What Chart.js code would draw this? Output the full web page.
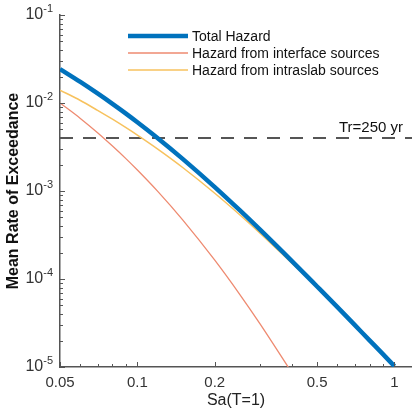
<!DOCTYPE html>
<html lang="en">
<head>
  <meta charset="UTF-8">
  <title>Hazard Curves</title>
  <style>
    html, body { margin: 0; padding: 0; background: #fff; }
    #wrap { width: 412px; height: 413px; }
  </style>
</head>
<body>
  <div id="wrap"><canvas id="hazard"></canvas></div>

  <script src="https://cdn.jsdelivr.net/npm/chart.js"></script>
  <script>
    // Sa(T=1) values and rates
    const sa = [0.05, 0.06, 0.07, 0.08, 0.09, 0.1, 0.12, 0.15, 0.2, 0.25, 0.3, 0.4, 0.5, 0.6, 0.7, 0.8, 0.9, 1.0];
    const totalHazard = [0.0243, 0.01736, 0.01284, 0.00978, 0.00762, 0.00604, 0.00398, 0.00232, 0.001108, 0.000605, 0.000363, 0.0001585, 0.0000822, 0.0000479, 0.0000301, 0.0000201, 0.0000141, 0.0000102];
    const intraslabHazard = [0.0140, 0.01068, 0.00825, 0.00654, 0.00527, 0.00431, 0.00299, 0.00185, 0.000944, 0.000538, 0.000332, 0.000150, 0.0000810, 0.0000473, 0.0000298, 0.0000199, 0.0000140, 0.0000101];
    const interfaceSa = [0.05, 0.06, 0.07, 0.08, 0.09, 0.1, 0.12, 0.15, 0.2, 0.25, 0.3, 0.4];
    const interfaceHazard = [0.0100, 0.00668, 0.00459, 0.00324, 0.002348, 0.001729, 0.000989, 0.00047, 0.0001636, 0.000067, 0.0000309, 0.0000085];
    const returnRate = 1 / 250;
    const returnLabel = 'Tr=250 yr';
    const xTicks = [0.05, 0.1, 0.2, 0.5, 1];
    const yTicks = [1e-5, 1e-4, 1e-3, 1e-2, 1e-1];

    const toPts = (xs, ys) => xs.map((x, i) => ({ x: x, y: ys[i] }));
    const AXIS = '#555';

    // inward ticks, log minor ticks, superscript y labels, legend, Tr label
    const decor = {
      id: 'decor',
      afterDraw(chart) {
        const ctx = chart.ctx, xs = chart.scales.x, ys = chart.scales.y, a = chart.chartArea;
        ctx.save();
        ctx.strokeStyle = AXIS;
        ctx.lineWidth = 1;
        ctx.beginPath();
        for (let e = -5; e < -1; e++) {
          for (let m = 1; m <= 10; m++) {
            const v = m * Math.pow(10, e);
            const py = Math.round(ys.getPixelForValue(v)) + 0.5;
            const len = (m === 1 || m === 10) ? 5 : 3;
            ctx.moveTo(a.left, py); ctx.lineTo(a.left + len, py);
          }
        }
        for (let e = -2; e <= 0; e++) {
          for (let m = 1; m <= 9; m++) {
            const v = m * Math.pow(10, e);
            if (v < 0.05 || v > xs.max) continue;
            const px = Math.round(xs.getPixelForValue(v)) + 0.5;
            const len = xTicks.includes(+v.toFixed(3)) ? 5 : 3;
            ctx.moveTo(px, a.bottom); ctx.lineTo(px, a.bottom - len);
          }
        }
        ctx.stroke();

        // y tick labels 10^n
        ctx.fillStyle = '#333';
        ctx.textBaseline = 'middle';
        yTicks.forEach(v => {
          const py = ys.getPixelForValue(v);
          const exp = String(Math.round(Math.log10(v)));
          ctx.font = '11px Arial';
          const ew = ctx.measureText(exp).width;
          const right = a.left - 7;
          ctx.textAlign = 'right';
          ctx.fillText(exp, right, py - 6);
          ctx.font = '16px Arial';
          ctx.fillText('10', right - ew, py);
        });

        // return period label
        ctx.font = '15px Arial';
        ctx.textAlign = 'right';
        ctx.textBaseline = 'bottom';
        ctx.fillStyle = '#111';
        ctx.fillText(returnLabel, a.right - 9, ys.getPixelForValue(returnRate) - 3);

        // legend
        const rows = [36, 53, 70];
        ctx.textAlign = 'left';
        ctx.textBaseline = 'middle';
        ctx.font = '14px Arial';
        [0, 1, 2].forEach((di, i) => {
          const ds = chart.data.datasets[di];
          ctx.strokeStyle = ds.borderColor;
          ctx.lineWidth = ds.borderWidth;
          ctx.beginPath();
          ctx.moveTo(128, rows[i]); ctx.lineTo(188, rows[i]);
          ctx.stroke();
          ctx.fillStyle = '#111';
          ctx.fillText(ds.label, 192, rows[i] + 1);
        });
        ctx.restore();
      }
    };

    new Chart(document.getElementById('hazard'), {
      type: 'line',
      data: {
        datasets: [
          { label: 'Total Hazard', data: toPts(sa, totalHazard), borderColor: '#0072BD', borderWidth: 4.5, order: 0 },
          { label: 'Hazard from interface sources', data: toPts(interfaceSa, interfaceHazard), borderColor: '#EE8A70', borderWidth: 1.3, order: 2 },
          { label: 'Hazard from intraslab sources', data: toPts(sa, intraslabHazard), borderColor: '#F7C25E', borderWidth: 1.5, order: 1 },
          { label: 'Tr', data: [{ x: 0.05, y: returnRate }, { x: 1.17, y: returnRate }], borderColor: '#555', borderWidth: 2, borderDash: [13, 10], order: 3 }
        ]
      },
      options: {
        responsive: true,
        maintainAspectRatio: false,
        animation: false,
        layout: { padding: { top: 15, left: 0, right: 0, bottom: 0 } },
        elements: { point: { radius: 0 }, line: { cubicInterpolationMode: 'monotone' } },
        plugins: { legend: { display: false }, tooltip: { enabled: false } },
        scales: {
          x: {
            type: 'logarithmic',
            min: 0.05,
            max: 1.17,
            afterBuildTicks: s => { s.ticks = xTicks.map(v => ({ value: v })); },
            afterFit: s => { s.height = 46; },
            ticks: { autoSkip: false, maxRotation: 0, padding: 7, color: '#333', font: { family: 'Arial', size: 15 }, callback: v => String(v) },
            grid: { display: false, drawTicks: false },
            border: { color: AXIS, width: 1.5 },
            title: { display: true, text: 'Sa(T=1)', color: '#222', font: { family: 'Arial', size: 16 }, padding: { top: 0, bottom: 3 } }
          },
          y: {
            type: 'logarithmic',
            min: 1e-5,
            max: 1e-1,
            afterFit: s => { s.width = 60; },
            ticks: { display: false },
            grid: { display: false, drawTicks: false },
            border: { color: AXIS, width: 1.5 },
            title: { display: true, text: 'Mean Rate of Exceedance', color: '#111', font: { family: 'Arial', size: 16, weight: 'bold' }, padding: { top: 4, bottom: 0 } }
          }
        }
      },
      plugins: [decor]
    });
  </script>
</body>
</html>
